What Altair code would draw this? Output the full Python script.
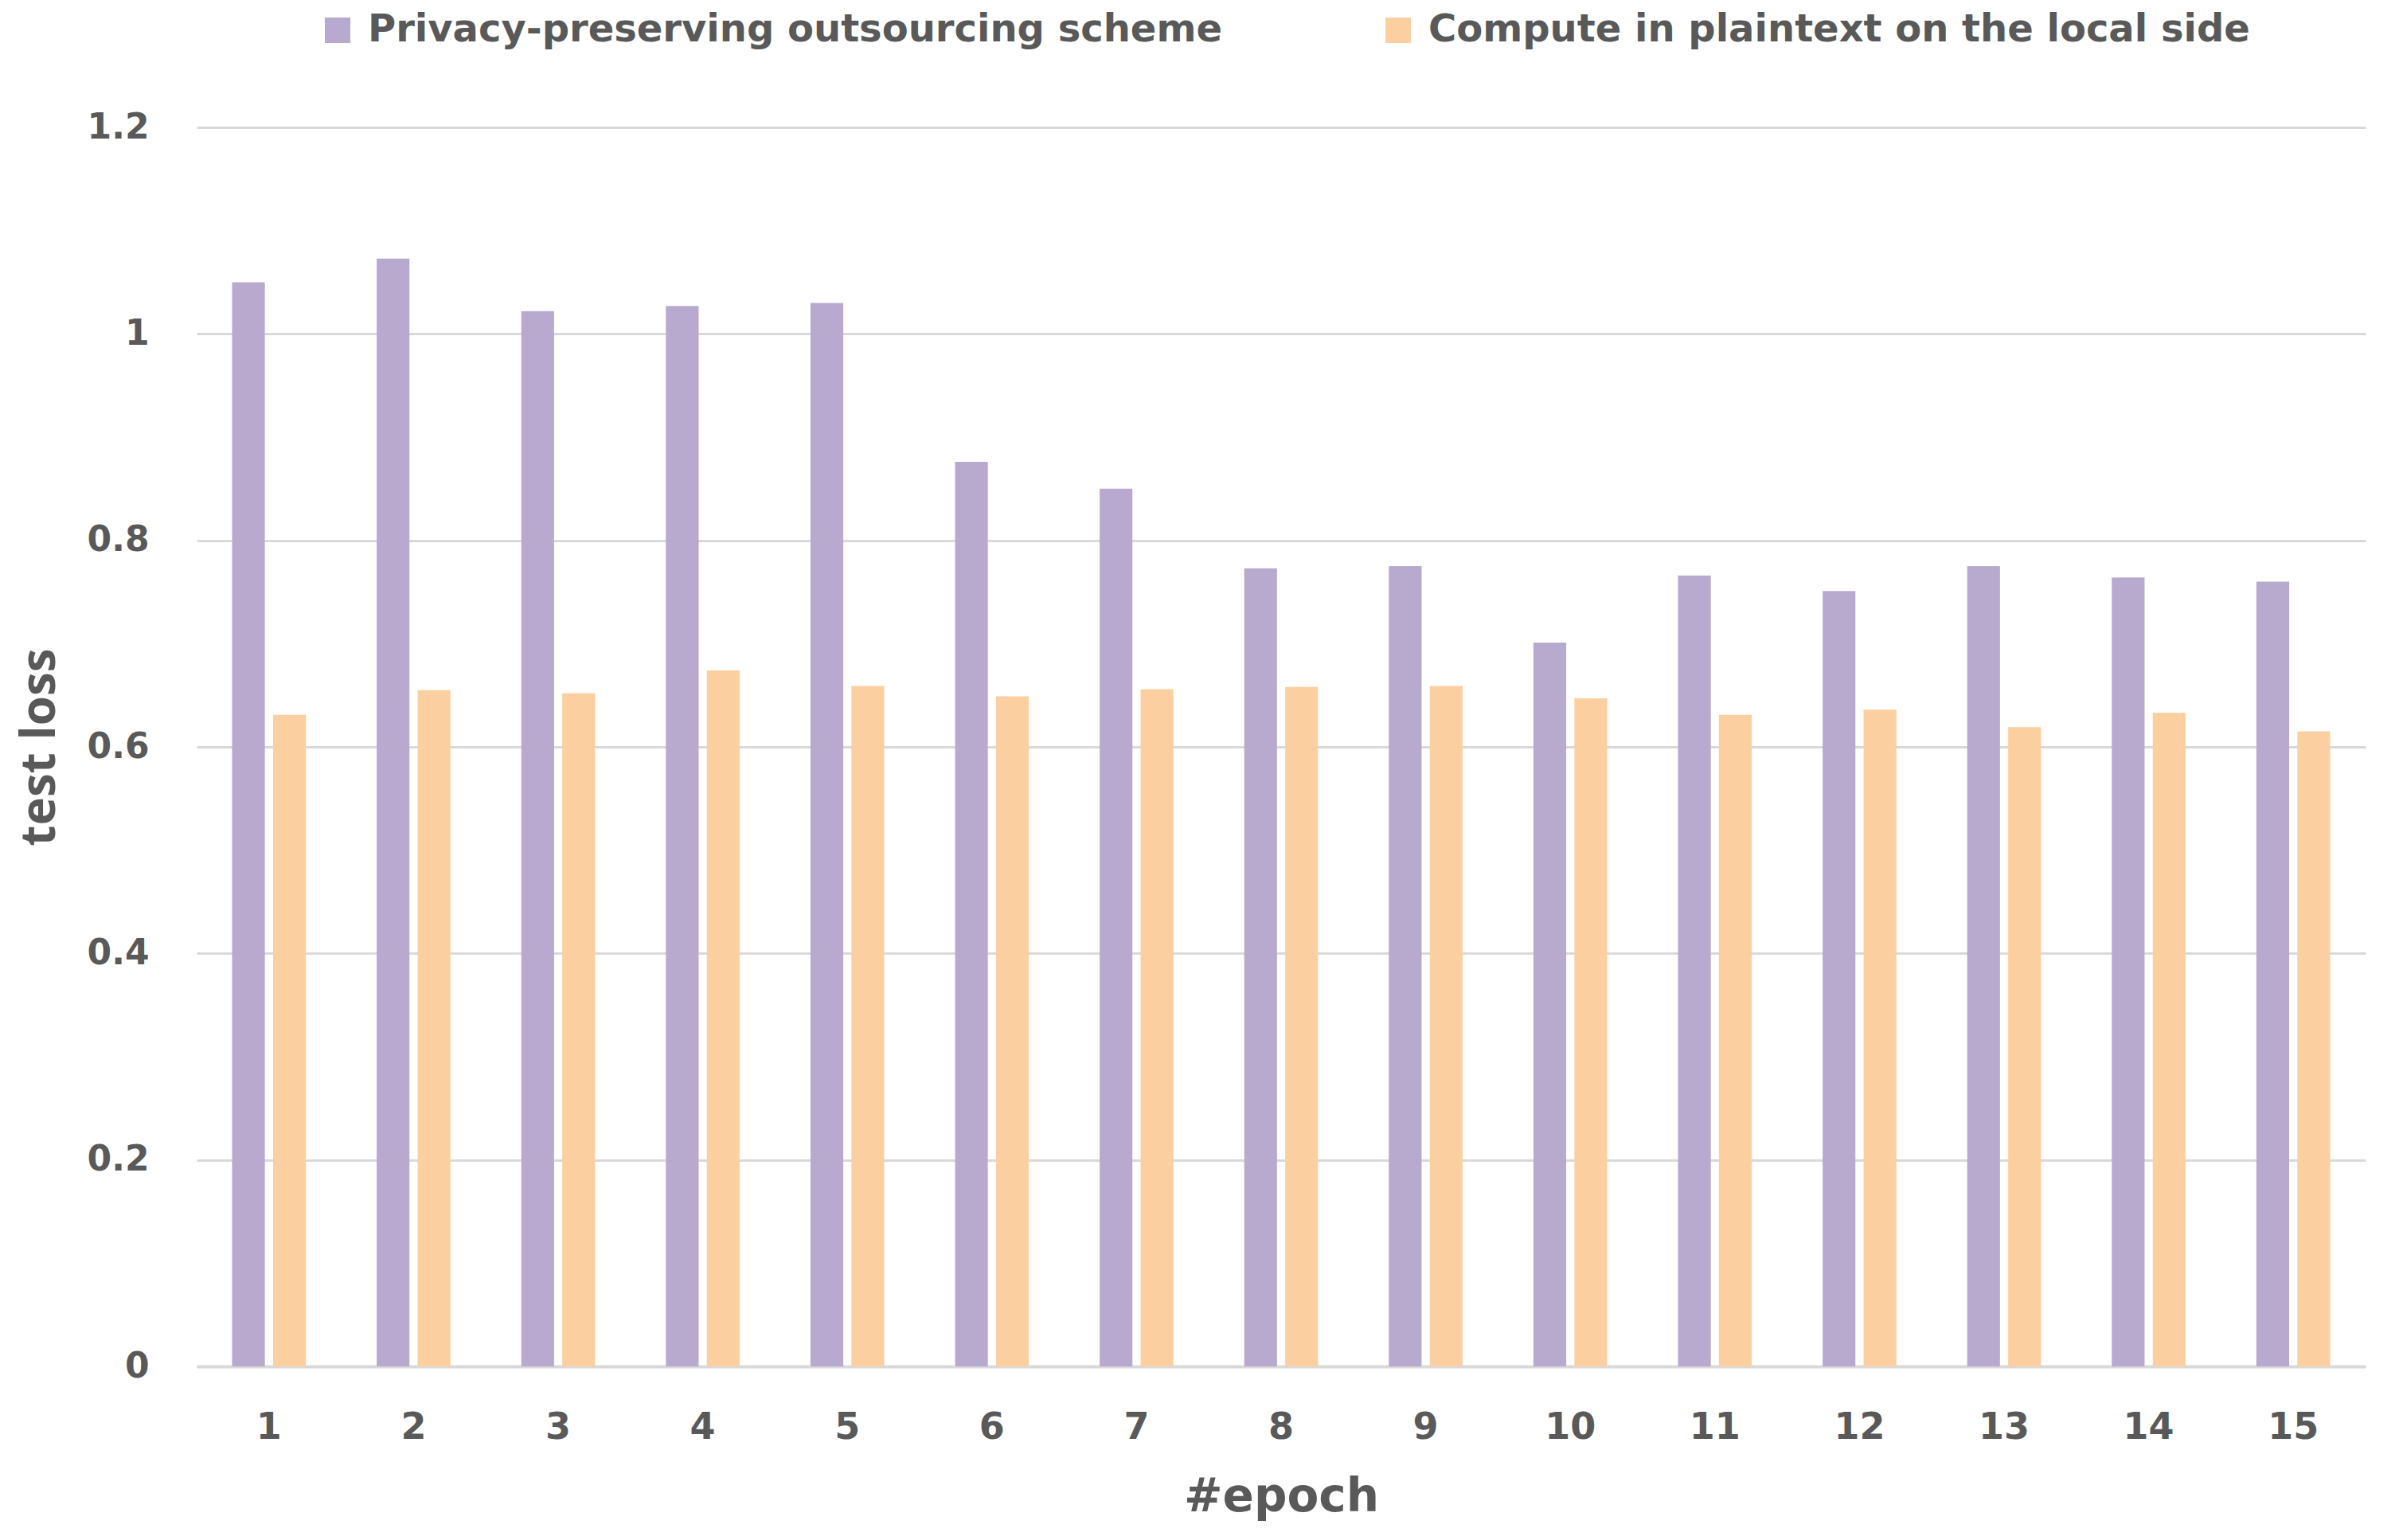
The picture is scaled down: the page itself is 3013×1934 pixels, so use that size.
import altair as alt
import pandas as pd

epochs = list(range(1, 16))
privacy_loss = [1.050, 1.073, 1.022, 1.027, 1.030, 0.876, 0.850, 0.773, 0.775, 0.701,
                0.766, 0.751, 0.775, 0.764, 0.760]
plaintext_loss = [0.631, 0.655, 0.652, 0.674, 0.659, 0.649, 0.656, 0.658, 0.659, 0.647,
                  0.631, 0.636, 0.619, 0.633, 0.615]
series_names = ["Privacy-preserving outsourcing  scheme", "Compute in plaintext on the local side"]
series_colors = ["#B8A9CF", "#FCCFA0"]
y_ticks = [0, 0.2, 0.4, 0.6, 0.8, 1.0, 1.2]

rows = []
for e, p, q in zip(epochs, privacy_loss, plaintext_loss):
    rows.append({"epoch": e, "series": series_names[0], "loss": p})
    rows.append({"epoch": e, "series": series_names[1], "loss": q})
df = pd.DataFrame(rows)

TEXT = "#595959"

chart = alt.Chart(df).mark_bar().encode(
    x=alt.X("epoch:O", title="#epoch",
            scale=alt.Scale(paddingInner=0.49, paddingOuter=0.245),
            axis=alt.Axis(labelAngle=0, ticks=False, domain=True, domainColor="#D9D9D9",
                          domainWidth=4, grid=False, labelFont="DejaVu Sans",
                          labelFontWeight="bold", labelFontSize=46, labelColor=TEXT,
                          labelPadding=54, titleFont="DejaVu Sans", titleFontWeight="bold",
                          titleFontSize=58, titleColor=TEXT, titlePadding=36)),
    xOffset=alt.XOffset("series:N", sort=series_names,
                        scale=alt.Scale(paddingInner=0.2, paddingOuter=0)),
    y=alt.Y("loss:Q", title="test loss",
            scale=alt.Scale(domain=[0, 1.2], nice=False),
            axis=alt.Axis(values=y_ticks, format="~g", ticks=False, domain=False,
                          grid=True, gridColor="#D9D9D9", gridWidth=3,
                          labelFont="DejaVu Sans", labelFontWeight="bold", labelFontSize=44,
                          labelColor=TEXT, labelPadding=60,
                          titleFont="Open Sans", titleFontWeight="bold", titleFontSize=60,
                          titleColor=TEXT, titlePadding=28)),
    color=alt.Color("series:N", sort=series_names,
                    scale=alt.Scale(domain=series_names, range=series_colors),
                    legend=alt.Legend(title=None, orient="none", legendX=153, legendY=-146,
                                      direction="horizontal", columns=2, columnPadding=180,
                                      symbolType="square", symbolSize=1024,
                                      symbolStrokeWidth=0, labelOffset=14,
                                      labelFont="DejaVu Sans", labelFontWeight="bold",
                                      labelFontSize=48, labelColor=TEXT, labelLimit=2000,
                                      padding=0)),
).properties(
    width=2724,
    height=1556,
    padding={"left": 239, "top": 152, "right": 34, "bottom": 210},
    autosize=alt.AutoSizeParams(type="none"),
    background="white",
).configure_view(stroke=None)

chart.save("out.html", embed_options={"renderer": "svg", "actions": False})
